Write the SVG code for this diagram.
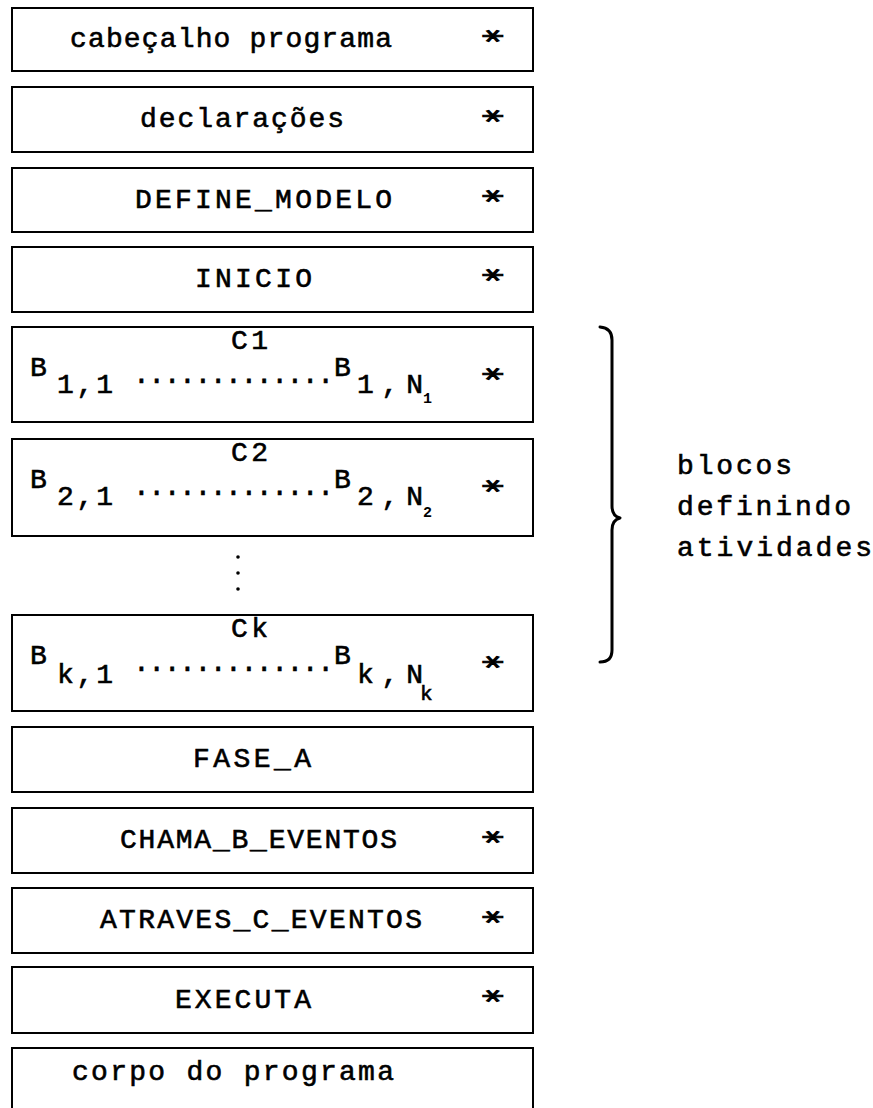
<svg xmlns="http://www.w3.org/2000/svg" width="873" height="1108" viewBox="0 0 873 1108">
  <style>
    .box { fill: none; stroke: #000; stroke-width: 2; }
    .t { font-family: "Liberation Mono", "DejaVu Sans Mono", monospace; font-size: 28px; fill: #000; stroke: #000; stroke-width: 0.6; }
    .tiny { font-family: "Liberation Mono", "DejaVu Sans Mono", monospace; font-size: 15px; font-weight: bold; fill: #000; }
    .ast { font-family: "DejaVu Sans Mono", monospace; font-size: 32px; fill: #000; stroke: #000; stroke-width: 1.2; text-anchor: middle; }
    .brace { fill: none; stroke: #000; stroke-width: 3; stroke-linecap: round; stroke-linejoin: round; }
  </style>
  <defs>
    <!-- flat six-armed asterisk used at the right end of most blocks -->
    <text id="star" class="ast" x="0" y="18">*</text>
  </defs>

  <g id="cabecalho">
    <rect class="box" x="12" y="8" width="521" height="63"/>
    <text class="t" x="70" y="47" textLength="322" lengthAdjust="spacing">cabeçalho programa</text>
    <use href="#star" transform="translate(495,36) scale(1.35,0.8) rotate(90)"/>
  </g>

  <g id="declaracoes">
    <rect class="box" x="12" y="87" width="521" height="65"/>
    <text class="t" x="140" y="127" textLength="204" lengthAdjust="spacing">declarações</text>
    <use href="#star" transform="translate(495,116) scale(1.35,0.8) rotate(90)"/>
  </g>

  <g id="define-modelo">
    <rect class="box" x="12" y="168" width="521" height="64"/>
    <text class="t" x="135" y="208" textLength="257" lengthAdjust="spacing">DEFINE_MODELO</text>
    <use href="#star" transform="translate(495,196) scale(1.35,0.8) rotate(90)"/>
  </g>

  <g id="inicio">
    <rect class="box" x="12" y="247" width="521" height="65"/>
    <text class="t" x="195" y="287" textLength="117" lengthAdjust="spacing">INICIO</text>
    <use href="#star" transform="translate(495,275) scale(1.35,0.8) rotate(90)"/>
  </g>

  <g id="bloco-c1">
    <rect class="box" x="12" y="327" width="521" height="95"/>
    <text class="t" x="231" y="349" textLength="37" lengthAdjust="spacing">C1</text>
    <text class="t" x="30" y="376">B</text>
    <text class="t" x="57" y="393" textLength="56" lengthAdjust="spacing">1,1</text>
    <text class="t" x="133" y="383" textLength="201" lengthAdjust="spacing">.............</text>
    <text class="t" x="334" y="376">B</text>
    <text class="t" x="357" y="393" textLength="66" lengthAdjust="spacing">1,N</text>
    <text class="tiny" x="423" y="403">1</text>
    <use href="#star" transform="translate(495,374) scale(1.35,0.8) rotate(90)"/>
  </g>

  <g id="bloco-c2">
    <rect class="box" x="12" y="439" width="521" height="97"/>
    <text class="t" x="231" y="461" textLength="37" lengthAdjust="spacing">C2</text>
    <text class="t" x="30" y="488">B</text>
    <text class="t" x="57" y="505" textLength="56" lengthAdjust="spacing">2,1</text>
    <text class="t" x="133" y="495" textLength="201" lengthAdjust="spacing">.............</text>
    <text class="t" x="334" y="488">B</text>
    <text class="t" x="357" y="505" textLength="66" lengthAdjust="spacing">2,N</text>
    <text class="tiny" x="423" y="517">2</text>
    <use href="#star" transform="translate(495,486) scale(1.35,0.8) rotate(90)"/>
  </g>

  <g id="reticencias">
    <circle cx="238" cy="557" r="1.8"/>
    <circle cx="238" cy="573" r="1.8"/>
    <circle cx="238" cy="589" r="1.8"/>
  </g>

  <g id="bloco-ck">
    <rect class="box" x="12" y="615" width="521" height="96"/>
    <text class="t" x="231" y="637" textLength="37" lengthAdjust="spacing">Ck</text>
    <text class="t" x="30" y="664">B</text>
    <text class="t" x="57" y="683" textLength="56" lengthAdjust="spacing">k,1</text>
    <text class="t" x="133" y="671" textLength="201" lengthAdjust="spacing">.............</text>
    <text class="t" x="334" y="664">B</text>
    <text class="t" x="357" y="683" textLength="66" lengthAdjust="spacing">k,N</text>
    <text class="t" x="420" y="700" style="font-size:21px">k</text>
    <use href="#star" transform="translate(495,662) scale(1.35,0.8) rotate(90)"/>
  </g>

  <g id="fase-a">
    <rect class="box" x="12" y="727" width="521" height="65"/>
    <text class="t" x="193" y="767" textLength="118" lengthAdjust="spacing">FASE_A</text>
  </g>

  <g id="chama-b-eventos">
    <rect class="box" x="12" y="808" width="521" height="65"/>
    <text class="t" x="120" y="848" textLength="277" lengthAdjust="spacing">CHAMA_B_EVENTOS</text>
    <use href="#star" transform="translate(495,837) scale(1.35,0.8) rotate(90)"/>
  </g>

  <g id="atraves-c-eventos">
    <rect class="box" x="12" y="888" width="521" height="65"/>
    <text class="t" x="100" y="928" textLength="322" lengthAdjust="spacing">ATRAVES_C_EVENTOS</text>
    <use href="#star" transform="translate(495,917) scale(1.35,0.8) rotate(90)"/>
  </g>

  <g id="executa">
    <rect class="box" x="12" y="967" width="521" height="66"/>
    <text class="t" x="175" y="1008" textLength="136" lengthAdjust="spacing">EXECUTA</text>
    <use href="#star" transform="translate(495,996) scale(1.35,0.8) rotate(90)"/>
  </g>

  <g id="corpo">
    <path class="box" d="M12,1110 V1048 H533 V1110"/>
    <text class="t" x="72" y="1080" textLength="322" lengthAdjust="spacing">corpo do programa</text>
  </g>

  <g id="brace">
    <path class="brace" d="M600,327 Q612,328 612,340 V506 Q612,516 620,518 Q612,520 612,530 V650 Q612,662 600,662"/>
  </g>

  <g id="rotulo">
    <text class="t" x="677" y="474" textLength="115" lengthAdjust="spacing">blocos</text>
    <text class="t" x="677" y="515" textLength="174" lengthAdjust="spacing">definindo</text>
    <text class="t" x="677" y="556" textLength="195" lengthAdjust="spacing">atividades</text>
  </g>
</svg>
